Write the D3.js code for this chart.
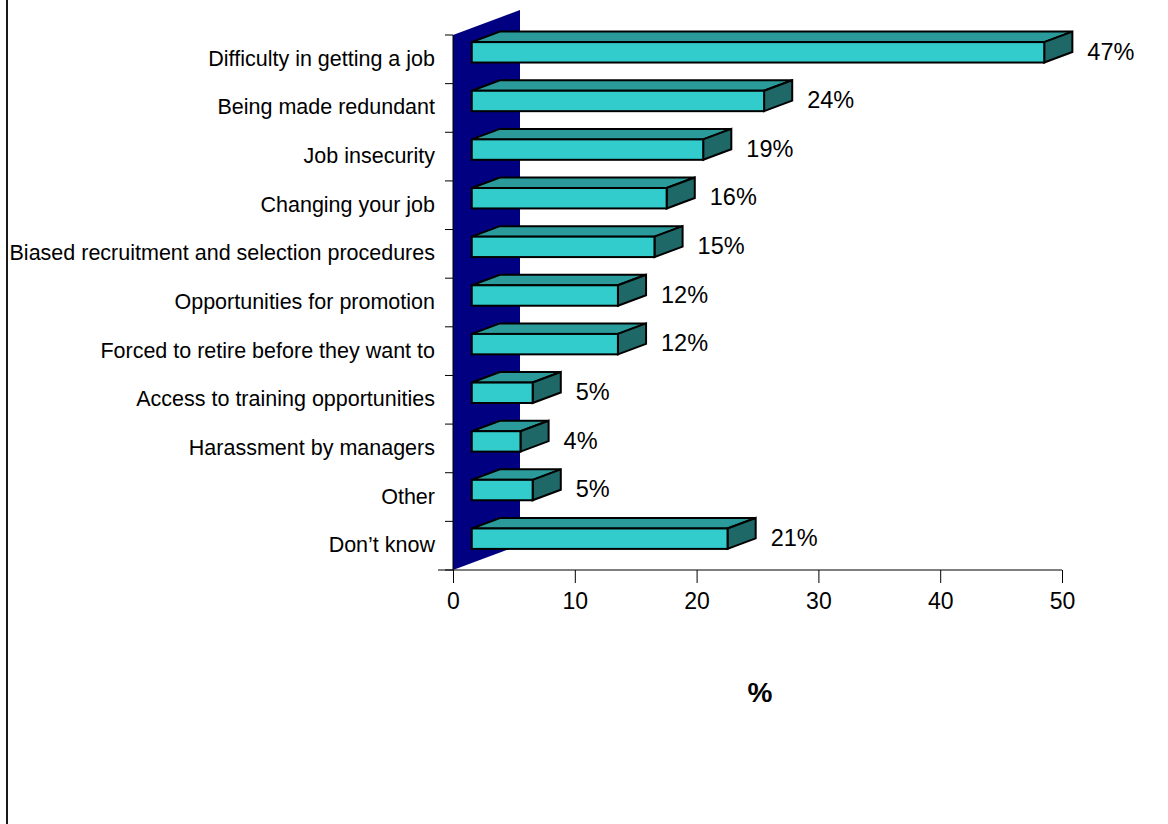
<!DOCTYPE html>
<html>
<head>
<meta charset="utf-8">
<script src="https://cdn.jsdelivr.net/npm/d3@7"></script>
<style>
  html, body { margin: 0; padding: 0; background: #fff; }
  svg { display: block; }
  text { font-family: "Liberation Sans", Arial, sans-serif; fill: #000; }
</style>
</head>
<body>
<svg id="chart" width="1168" height="824"></svg>
<script>
// Survey responses, top to bottom
const categories = [
  "Difficulty in getting a job",
  "Being made redundant",
  "Job insecurity",
  "Changing your job",
  "Biased recruitment and selection procedures",
  "Opportunities for promotion",
  "Forced to retire before they want to",
  "Access to training opportunities",
  "Harassment by managers",
  "Other",
  "Don\u2019t know"
];
const values = [47, 24, 19, 16, 15, 12, 12, 5, 4, 5, 21];
const valueLabels = ["47%", "24%", "19%", "16%", "15%", "12%", "12%", "5%", "4%", "5%", "21%"];
const xTicks = [0, 10, 20, 30, 40, 50];
const xTitle = "%";

const svg = d3.select("#chart");

// Front plane of the plot
const x = d3.scaleLinear().domain([0, 50]).range([453, 1062]);
const y = d3.scaleBand().domain(categories).range([35, 570]);

// Depth vector of the 3D box, and the slice of depth the bars occupy
const DX = 67, DY = -25;
const t0 = 0.28, t1 = 0.70;
const barH = y.bandwidth() * 0.42;
const ddx = DX * (t1 - t0), ddy = DY * (t1 - t0);

// Left border rule
svg.append("line")
  .attr("x1", 7).attr("x2", 7).attr("y1", 0).attr("y2", 824)
  .attr("stroke", "#1a1a1a").attr("stroke-width", 2);

// Side wall
const [yTop, yBot] = y.range();
svg.append("polygon")
  .attr("points", [
    [x(0), yTop], [x(0) + DX, yTop + DY], [x(0) + DX, yBot + DY], [x(0), yBot]
  ].map(p => p.join(",")).join(" "))
  .attr("fill", "#000080");

// Category boundary ticks on the left
const bounds = categories.map(c => y(c)).concat([yBot]);
svg.append("g").selectAll("line").data(bounds).join("line")
  .attr("x1", x(0) - 8).attr("x2", x(0))
  .attr("y1", d => d).attr("y2", d => d)
  .attr("stroke", "#000").attr("stroke-width", 1);

// Vertical axis line
svg.append("line")
  .attr("x1", x(0)).attr("x2", x(0)).attr("y1", yTop).attr("y2", yBot)
  .attr("stroke", "#000").attr("stroke-width", 1);

// Category labels
svg.append("g").selectAll("text").data(categories).join("text")
  .attr("x", 435)
  .attr("y", d => y(d) + y.bandwidth() / 2 - 1)
  .attr("dy", "0.35em")
  .attr("text-anchor", "end")
  .attr("font-size", 21.5)
  .text(d => d);

// Bottom axis
const xAxis = d3.axisBottom(x).tickValues(xTicks).tickSize(13).tickPadding(10);
const gx = svg.append("g").attr("transform", `translate(0,${yBot})`).call(xAxis);
gx.select(".domain").remove();
gx.selectAll(".tick line").attr("stroke", "#000");
gx.selectAll(".tick text")
  .attr("font-family", "'Liberation Sans', Arial, sans-serif")
  .attr("font-size", 23).attr("fill", "#000");
svg.append("line")
  .attr("x1", 438).attr("x2", x(50)).attr("y1", yBot).attr("y2", yBot)
  .attr("stroke", "#000").attr("stroke-width", 1);

// 3D bars
const bars = svg.append("g")
  .attr("stroke", "#000").attr("stroke-width", 2).attr("stroke-linejoin", "miter");

categories.forEach((c, i) => {
  const yc = y(c) + y.bandwidth() / 2 + DY * t0;
  const yt = yc - barH / 2, yb = yc + barH / 2;
  const x0 = x(0) + DX * t0, x1 = x(values[i]) + DX * t0;
  const pts = a => a.map(p => p.join(",")).join(" ");

  bars.append("polygon")
    .attr("points", pts([[x0, yt], [x0 + ddx, yt + ddy], [x1 + ddx, yt + ddy], [x1, yt]]))
    .attr("fill", "#2a9a9a");
  bars.append("polygon")
    .attr("points", pts([[x1, yt], [x1 + ddx, yt + ddy], [x1 + ddx, yb + ddy], [x1, yb]]))
    .attr("fill", "#1f6868");
  bars.append("rect")
    .attr("x", x0).attr("y", yt).attr("width", x1 - x0).attr("height", barH)
    .attr("fill", "#33cccc");

  svg.append("text")
    .attr("x", x1 + ddx + 15)
    .attr("y", yc - 1)
    .attr("dy", "0.35em")
    .attr("font-size", 23.5)
    .text(valueLabels[i]);
});

// Axis title
svg.append("text")
  .attr("x", 760).attr("y", 692).attr("dy", "0.35em")
  .attr("text-anchor", "middle")
  .attr("font-size", 28).attr("font-weight", "bold")
  .text(xTitle);
</script>
</body>
</html>
